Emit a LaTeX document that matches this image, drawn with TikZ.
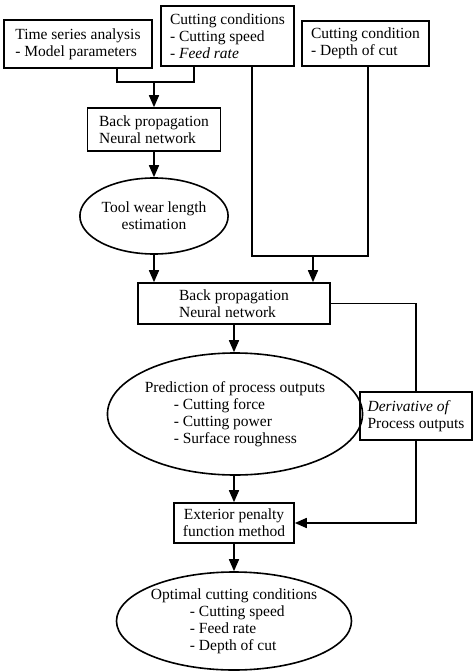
\documentclass[tikz,border=0pt]{standalone}
\usepackage{fontspec}
\setmainfont{Liberation Serif}
\usetikzlibrary{shapes.geometric,arrows.meta}

\tikzset{
  box/.style={draw, rectangle, line width=1.6pt, align=left, inner sep=2pt},
  oval/.style={draw, ellipse, line width=1.6pt, align=left, inner sep=0pt},
  arr/.style={-{Triangle[length=12pt,width=10pt]}},
}

\begin{document}
\begin{tikzpicture}[x=1pt,y=-1pt,line width=1.6pt,font=\fontsize{15.5}{17}\selectfont]
        \useasboundingbox (0,0) rectangle (474,671);
        % inputs
        \node[box,minimum width=148pt,minimum height=48pt] (ts) at(78,44){Time series analysis\\- Model parameters};
        \node[box,minimum width=133pt,minimum height=60pt] (cc) at(227.5,36){Cutting conditions\\- Cutting speed\\\textit{- Feed rate}};
        \node[box,minimum width=127pt,minimum height=45pt] (dc) at(365.5,43.5){Cutting condition\\- Depth of cut};
        % first network
        \node[box,minimum width=133pt,minimum height=43pt] (bp1) at(154,129.5){Back propagation\\Neural network};
        \node[oval,align=center,minimum width=143pt,minimum height=76pt] (tw) at(154,216){Tool wear length\\estimation};
        % second network
        \node[box,minimum width=192pt,minimum height=41pt] (bp2) at(234,303.5){Back propagation\\Neural network};
        \node[oval,minimum width=219pt,minimum height=122pt] (pr) at(235,414){Prediction of process outputs\\\hspace*{29pt}- Cutting force\\\hspace*{29pt}- Cutting power\\\hspace*{29pt}- Surface roughness};
        \node[box,inner sep=1pt,minimum width=112pt,minimum height=48pt] (dv) at(416,416){\textit{Derivative of}\\Process outputs};
        % optimisation
        \node[box,align=center,minimum width=120pt,minimum height=40pt] (ep) at(234,523){Exterior penalty\\function method};
        \node[oval,minimum width=178pt,minimum height=98pt] (oc) at(234,621){Optimal cutting conditions\\\hspace*{39pt}- Cutting speed\\\hspace*{39pt}- Feed rate\\\hspace*{39pt}- Depth of cut};
        % joins
        \coordinate (c1) at(117,82);
        \coordinate (c2) at(194,82);
        \coordinate (j1) at(154,82);
        \coordinate (c3) at(252,256);
        \coordinate (c4) at(368,256);
        \coordinate (j2) at(313,256);
        \draw[]  (ts.south -| c1) -- (c1) -- (c2) -- (cc.south -| c2);
        \draw[arr]  (j1) -- (j1 |- bp1.north);
        \draw[arr]  (bp1.south) -- (tw.north);
        \draw[]  (cc.south -| c3) -- (c3) -- (c4) -- (dc.south -| c4);
        \draw[arr]  (j2) -- (j2 |- bp2.north);
        \draw[arr]  (tw.south) -- (tw.south |- bp2.north);
        \draw[]  (bp2.east) -| (dv.north);
        \draw[arr]  (bp2.south) -- (bp2.south |- pr.north);
        \draw[arr]  (pr.south -| ep.north) -- (ep.north);
        \draw[arr]  (dv.south) |- (ep.east);
        \draw[arr]  (ep.south) -- (oc.north);
    \end{tikzpicture}
\end{document}
